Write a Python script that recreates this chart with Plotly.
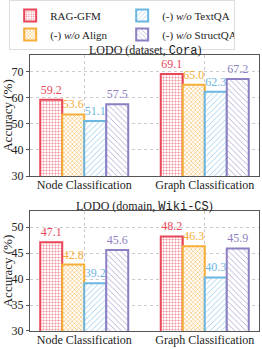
import plotly.graph_objects as go

categories = ["Node Classification", "Graph Classification"]
series_names = ["RAG-GFM", "(-) <i>w/o</i> Align", "(-) <i>w/o</i> TextQA", "(-) <i>w/o</i> StructQA"]
cora_values = [
    [59.2, 69.1],
    [53.6, 65.0],
    [51.1, 62.3],
    [57.5, 67.2],
]
wiki_values = [
    [47.1, 48.2],
    [42.8, 46.3],
    [39.2, 40.3],
    [45.6, 45.9],
]
colors = ["#E8475A", "#F5AE38", "#6CB6E2", "#8E7FC2"]
shapes = ["+", "x", "/", "\\"]
pattern_sizes = [3, 3, 4, 4]
solidities = [0.2, 0.3, 0.15, 0.15]
legend_ranks = [1, 3, 2, 4]
titles = ["LODO (dataset, <span style='font-family:Liberation Mono'>Cora</span>)",
          "LODO (domain, <span style='font-family:Liberation Mono'>Wiki-CS</span>)"]
yticks_top = [30, 40, 50, 60, 70]
yticks_bot = [30, 35, 40, 45, 50]

SERIF = "Liberation Serif"
fig = go.Figure()

for panel, (vals, xa, ya) in enumerate([(cora_values, "x", "y"), (wiki_values, "x2", "y2")]):
    for i, name in enumerate(series_names):
        fig.add_trace(go.Bar(
            x=categories, y=vals[i], name=name,
            xaxis=xa, yaxis=ya,
            showlegend=(panel == 0), legendrank=legend_ranks[i],
            marker=dict(
                color="white",
                line=dict(color=colors[i], width=2),
                pattern=dict(shape=shapes[i], fgcolor=colors[i], bgcolor="white",
                             size=pattern_sizes[i], solidity=solidities[i], fillmode="replace"),
            ),
            text=[f"{v:.1f}" for v in vals[i]],
            textposition="outside",
            textfont=dict(family=SERIF, size=12, color=colors[i]),
            constraintext="none",
            cliponaxis=False,
        ))

axis_common = dict(
    showline=True, linecolor="#555", linewidth=1, mirror=True,
    gridcolor="#cccccc", griddash="dot", gridwidth=1,
    tickfont=dict(family=SERIF, size=12, color="#222"),
    tickcolor="#555",
    zeroline=False,
)
xaxis_common = dict(ticks="", ticklabelstandoff=-2, range=[-0.45, 1.45], domain=[0, 1], **axis_common)
yaxis_common = dict(ticks="outside", ticklen=3, **axis_common)

fig.update_layout(
    width=262, height=349,
    margin=dict(l=30, r=3, t=55, b=18, autoexpand=False),
    plot_bgcolor="white", paper_bgcolor="white",
    barmode="group", bargap=0.27, bargroupgap=0,
    font=dict(family=SERIF, color="#222"),
    xaxis=dict(anchor="y", **xaxis_common),
    yaxis=dict(domain=[0.5616, 1], anchor="x", range=[30, 76.4], tickvals=yticks_top,
               title=dict(text="Accuracy (%)", font=dict(family=SERIF, size=13), standoff=3),
               **yaxis_common),
    xaxis2=dict(anchor="y2", **xaxis_common),
    yaxis2=dict(domain=[0, 0.4348], anchor="x2", range=[30, 53.1], tickvals=yticks_bot,
                title=dict(text="Accuracy (%)", font=dict(family=SERIF, size=13), standoff=3),
                **yaxis_common),
    legend=dict(
        orientation="h", x=0.035, xanchor="left", y=1.0, yanchor="top",
        xref="container", yref="container",
        entrywidth=67, entrywidthmode="pixels",
        bordercolor="#dddddd", borderwidth=1,
        font=dict(family=SERIF, size=11),
        itemwidth=30, tracegroupgap=0,
    ),
    annotations=[
        dict(text=titles[0], x=0.5, y=1, xref="x domain", yref="y domain",
             yanchor="bottom", showarrow=False, yshift=-5,
             font=dict(family=SERIF, size=12)),
        dict(text=titles[1], x=0.5, y=1, xref="x2 domain", yref="y2 domain",
             yanchor="bottom", showarrow=False, yshift=-5,
             font=dict(family=SERIF, size=12)),
    ],
)
fig.write_html("out.html", config={"displayModeBar": False},
               post_script="document.body.style.margin='0';")
